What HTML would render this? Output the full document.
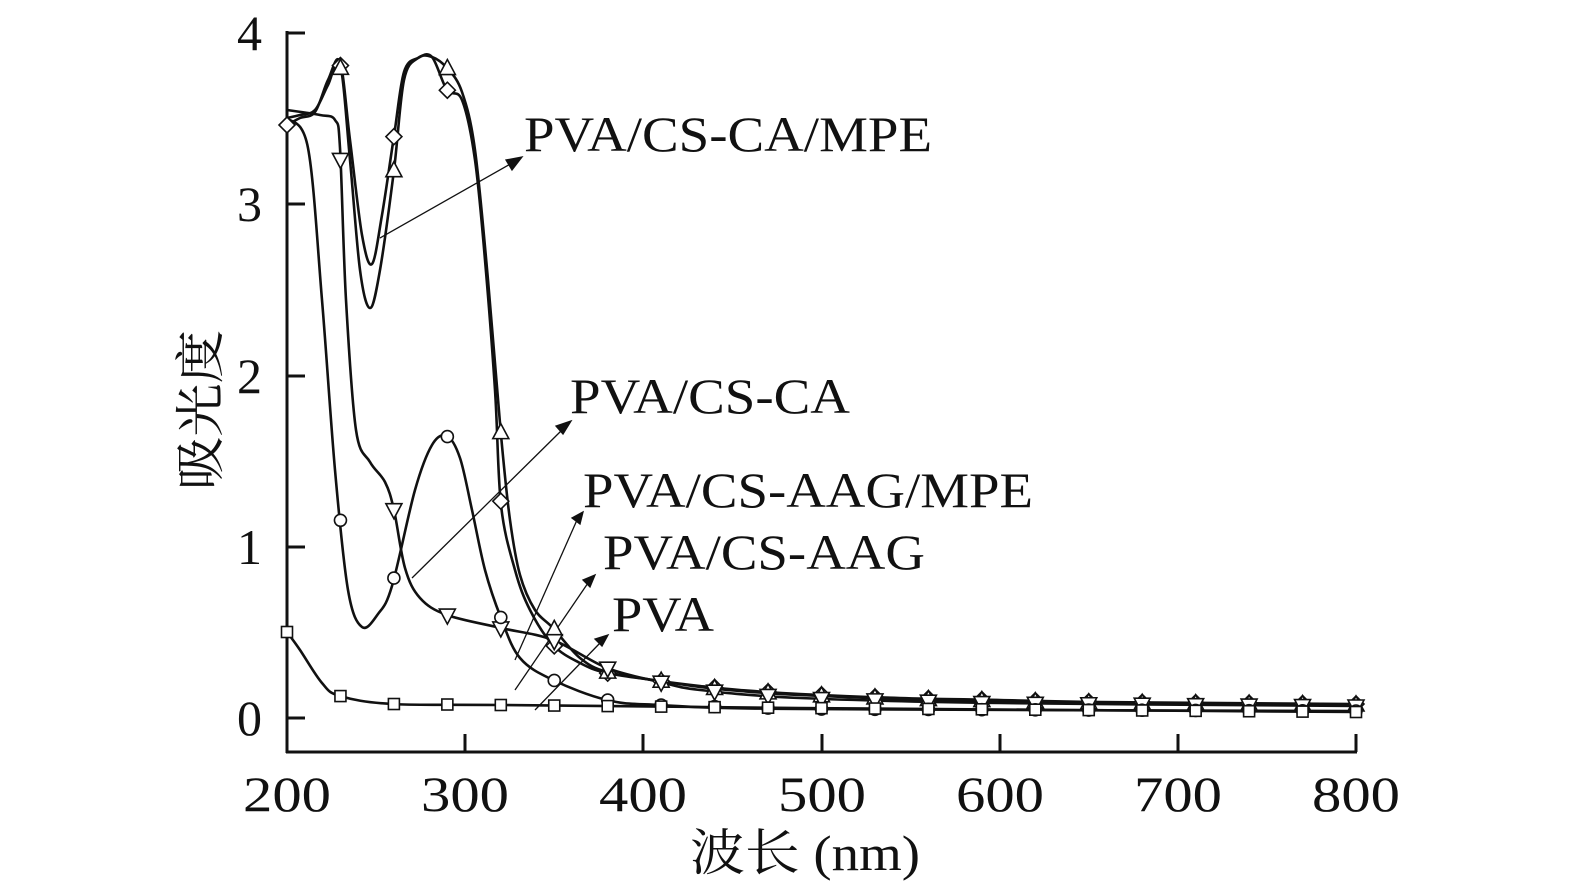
<!DOCTYPE html>
<html><head><meta charset="utf-8"><style>
html,body{margin:0;padding:0;background:#fff;}
svg{display:block;}
text{font-family:"Liberation Serif","Noto Serif CJK SC",serif;fill:#111;}
</style></head><body>
<svg id="s" width="1575" height="892" viewBox="0 0 1575 892" xmlns="http://www.w3.org/2000/svg">
<g stroke="#111" stroke-width="3" fill="none">
<line x1="287" y1="31" x2="287" y2="753"/>
<line x1="286" y1="752" x2="1357" y2="752"/>
<line x1="287" y1="33" x2="305" y2="33"/>
<line x1="287" y1="204" x2="305" y2="204"/>
<line x1="287" y1="376" x2="305" y2="376"/>
<line x1="287" y1="547" x2="305" y2="547"/>
<line x1="287" y1="718" x2="305" y2="718"/>
<line x1="465" y1="752" x2="465" y2="734"/>
<line x1="643" y1="752" x2="643" y2="734"/>
<line x1="822" y1="752" x2="822" y2="734"/>
<line x1="1000" y1="752" x2="1000" y2="734"/>
<line x1="1178" y1="752" x2="1178" y2="734"/>
<line x1="1356" y1="752" x2="1356" y2="734"/>
</g>
<g font-size="50" text-anchor="end">
<text x="262" y="50">4</text><text x="262" y="221">3</text><text x="262" y="393">2</text><text x="262" y="564">1</text><text x="262" y="735">0</text>
</g>
<g font-size="50">
<text x="243" y="811" textLength="88" lengthAdjust="spacingAndGlyphs">200</text>
<text x="421" y="811" textLength="88" lengthAdjust="spacingAndGlyphs">300</text>
<text x="599" y="811" textLength="88" lengthAdjust="spacingAndGlyphs">400</text>
<text x="778" y="811" textLength="88" lengthAdjust="spacingAndGlyphs">500</text>
<text x="956" y="811" textLength="88" lengthAdjust="spacingAndGlyphs">600</text>
<text x="1134" y="811" textLength="88" lengthAdjust="spacingAndGlyphs">700</text>
<text x="1312" y="811" textLength="88" lengthAdjust="spacingAndGlyphs">800</text>
<text x="690" y="870" textLength="230" lengthAdjust="spacingAndGlyphs">波长 (nm)</text>
<text transform="translate(218,490) rotate(-90)" textLength="160" lengthAdjust="spacingAndGlyphs">吸光度</text>
</g>
<g font-size="50">
<text x="524" y="151" textLength="408" lengthAdjust="spacingAndGlyphs">PVA/CS-CA/MPE</text>
<text x="570" y="413" textLength="280" lengthAdjust="spacingAndGlyphs">PVA/CS-CA</text>
<text x="583" y="507" textLength="450" lengthAdjust="spacingAndGlyphs">PVA/CS-AAG/MPE</text>
<text x="603" y="569" textLength="322" lengthAdjust="spacingAndGlyphs">PVA/CS-AAG</text>
<text x="612" y="631" textLength="102" lengthAdjust="spacingAndGlyphs">PVA</text>
</g>
<g stroke="#111" stroke-width="1.3" fill="#111">
<line x1="380" y1="238" x2="512" y2="163"/><polygon points="522,157 506,160 512,170"/>
<line x1="412" y1="578" x2="562" y2="430"/><polygon points="571,421 556,426 563,434"/>
<line x1="515" y1="660" x2="577" y2="520"/><polygon points="583,512 572,518 580,524"/>
<line x1="515" y1="690" x2="588" y2="583"/><polygon points="595,575 583,580 590,587"/>
<line x1="535" y1="710" x2="600" y2="643"/><polygon points="608,635 595,639 602,646"/>
</g>
<g id="curves" fill="none" stroke="#111" stroke-width="2.6" stroke-linejoin="round"></g>
<g id="marks" fill="#fff" stroke="#111" stroke-width="1.6"></g>
</svg>
<script>
var C={
d:[[287,125],[300,118],[315,112],[328,80],[340,62],[350,140],[362,235],[372,264],[382,215],[394,136],[404,72],[418,58],[432,57],[447,90],[462,100],[475,160],[485,260],[495,390],[501,505],[515,570],[530,610],[553,645],[580,663],[607,673],[660,681],[700,686],[740,690],[800,694],[900,698],[1000,700],[1100,702],[1356,704]],
t:[[287,118],[300,115],[315,110],[328,85],[340,64],[350,160],[360,270],[370,308],[380,270],[394,170],[404,80],[418,58],[432,57],[447,68],[462,92],[475,150],[488,280],[501,435],[510,520],[520,575],[535,610],[553,628],[580,658],[607,672],[660,681],[700,687],[740,691],[800,695],[900,699],[1000,701],[1100,703],[1356,705]],
v:[[287,110],[320,115],[335,120],[340,148],[346,300],[356,430],[370,462],[385,482],[394,510],[405,568],[420,598],[447,615],[501,628],[553,640],[607,668],[660,682],[700,690],[800,698],[1000,703],[1356,706]],
c:[[287,118],[308,148],[322,300],[335,470],[348,590],[362,627],[378,614],[392,586],[415,490],[432,445],[447,436],[460,458],[472,510],[485,570],[501,618],[520,658],[553,680],[607,700],[660,705],[800,709],[1356,711]],
s:[[287,632],[300,650],[322,683],[340,696],[392,704],[500,705],[800,708],[1356,712]]};
function yAt(p,x){for(var i=1;i<p.length;i++){if(x<=p[i][0]){var a=p[i-1],b=p[i];return a[1]+(b[1]-a[1])*(x-a[0])/(b[0]-a[0]);}}return p[p.length-1][1];}
function smooth(p){var d='M'+p[0][0]+','+p[0][1];for(var i=0;i<p.length-1;i++){var p0=p[i-1]||p[i],p1=p[i],p2=p[i+1],p3=p[i+2]||p2;
var c1x=p1[0]+(p2[0]-p0[0])/6,c1y=p1[1]+(p2[1]-p0[1])/6,c2x=p2[0]-(p3[0]-p1[0])/6,c2y=p2[1]-(p3[1]-p1[1])/6;
d+=' C'+c1x.toFixed(1)+','+c1y.toFixed(1)+' '+c2x.toFixed(1)+','+c2y.toFixed(1)+' '+p2[0]+','+p2[1];}return d;}
var g=document.getElementById('curves'),m=document.getElementById('marks'),ns='http://www.w3.org/2000/svg';
for(var k in C){var pl=document.createElementNS(ns,'path');pl.setAttribute('d',smooth(C[k]));g.appendChild(pl);}
var start={d:0,t:1,v:1,c:1,s:0};
for(var k in C){for(var i=start[k];i<=20;i++){var x=287+i*53.45;var y=yAt(C[k],x);var e;
if(k=='d'){e=document.createElementNS(ns,'polygon');e.setAttribute('points',[x,y-8,x+8,y,x,y+8,x-8,y].join(' '));}
else if(k=='t'){e=document.createElementNS(ns,'polygon');e.setAttribute('points',[x,y-9,x+8,y+6,x-8,y+6].join(' '));}
else if(k=='v'){e=document.createElementNS(ns,'polygon');e.setAttribute('points',[x,y+9,x+8,y-6,x-8,y-6].join(' '));}
else if(k=='c'){e=document.createElementNS(ns,'circle');e.setAttribute('cx',x);e.setAttribute('cy',y);e.setAttribute('r',6);}
else{e=document.createElementNS(ns,'rect');e.setAttribute('x',x-5.5);e.setAttribute('y',y-5.5);e.setAttribute('width',11);e.setAttribute('height',11);}
m.appendChild(e);}}
</script>
</body></html>
